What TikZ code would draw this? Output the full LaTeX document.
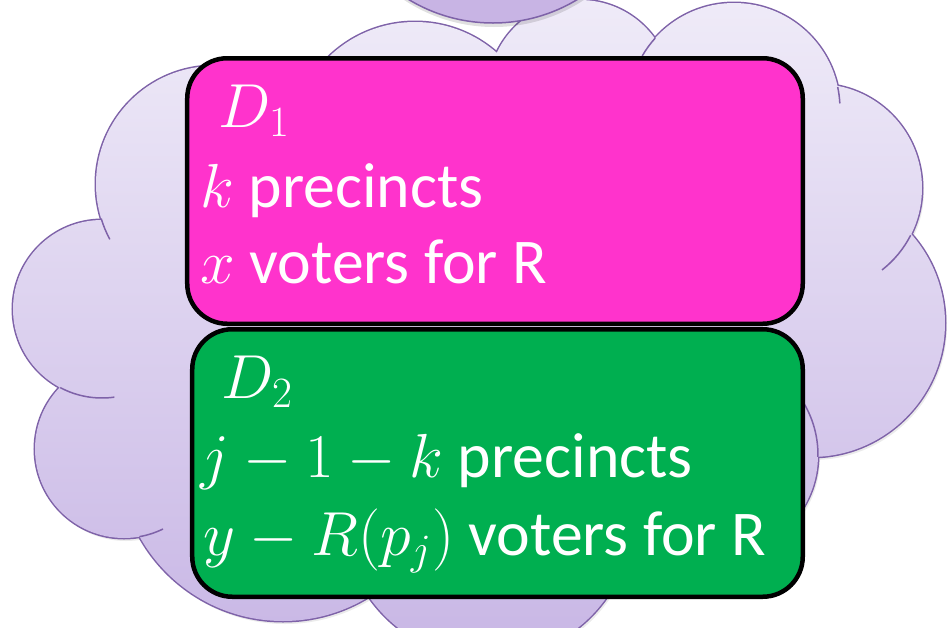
\documentclass[tikz,border=0pt]{standalone}
\usepackage{fontspec}
\setmainfont{Carlito}
\definecolor{distpink}{HTML}{FF33CC}
\definecolor{distgreen}{HTML}{00AF50}
\definecolor{cloudline}{HTML}{7E62A8}
\definecolor{cloudtop}{HTML}{EFEBF8}
\definecolor{cloudbottom}{HTML}{C8B6E5}
\definecolor{bubble}{HTML}{C8B4E4}
\tikzset{
  dbox/.style={draw=black, line width=1.8pt, rounded corners=16pt, inner sep=0pt},
  dtext/.style={anchor=base west, text=white, inner sep=0pt, font=\fontsize{25.5}{30}\selectfont},
  cloudedge/.style={draw=cloudline, line width=0.6pt}
}
\newcommand{\cloudbumps}{415/146/124, 580/92/92, 734/109/106, 818/188/104, 811/323/134, 716/455/102, 488/514/145, 283/457/164, 124/449/89, 102/309/89, 214/184/118}
\begin{document}
\begin{tikzpicture}[x=0.4pt, y=-0.4pt]
   \useasboundingbox (0,0) rectangle (949,628);
   \clip (0,0) rectangle (949,628);
   % cloud
   \fill[black, opacity=.08] \foreach \cx/\cy/\r in \cloudbumps {(\cx+2,\cy+3) circle (\r)};
   \foreach \cx/\cy/\r in \cloudbumps \draw[cloudline, line width=1.2pt] (\cx,\cy) circle (\r);
   \shade[top color=cloudtop, bottom color=cloudbottom] (495,330) circle (250) (230,330) circle (60)
      \foreach \cx/\cy/\r in \cloudbumps {(\cx,\cy) circle (\r)};
   \foreach \cx/\cy/\r/\a/\b in {734/109/106/222/210, 734/109/106/-12/-3, 818/188/104/27/52,
      716/455/102/-32/1, 102/309/89/118/82, 124/449/89/80/64, 214/184/118/163/152}
      \draw[cloudedge] (\cx,\cy) ++(\a:\r) arc[start angle=\a, end angle=\b, radius=\r];
   \fill[black, opacity=.12] (494,-136) circle (163);
   \draw[cloudedge, fill=bubble] (493,-140) circle (163);
   % districts
   \node[dbox, fill=distpink, minimum width=246.2pt, minimum height=106.2pt] (d1box) at (495,191) {};
   \node[dbox, fill=distgreen, minimum width=244.2pt, minimum height=107pt] (d2box) at (497.5,463) {};
   \node[dtext] (d1name) at (218,127) {$D_1$};
   \node[dtext] (d1size) at (200,207) {$k$ precincts};
   \node[dtext] (d1vote) at (200,283) {$x$ voters for R};
   \node[dtext] (d2name) at (221,398) {$D_2$};
   \node[dtext] (d2size) at (200,477) {$j-1-k$ precincts};
   \node[dtext] (d2vote) at (203,555) {$y-R(p_j)$ voters for R};
\end{tikzpicture}
\end{document}
